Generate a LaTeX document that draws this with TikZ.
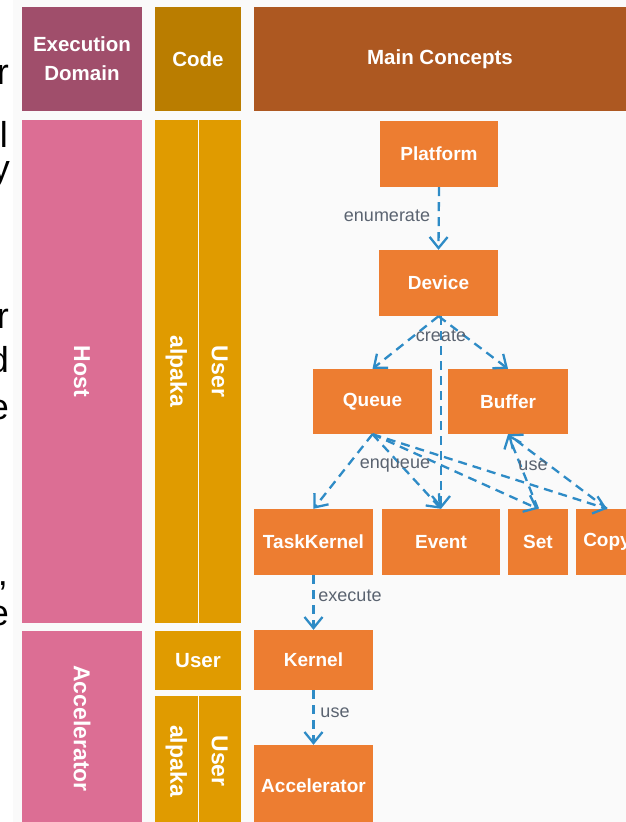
\documentclass[tikz,border=0pt]{standalone}
\usepackage{fontspec}
\setmainfont{Liberation Sans}
\usetikzlibrary{arrows.meta}
\definecolor{hdrDom}{HTML}{A04E6B}
\definecolor{hdrCode}{HTML}{BA7D00}
\definecolor{hdrMain}{HTML}{AD5821}
\definecolor{domPink}{HTML}{DC6E94}
\definecolor{codeGold}{HTML}{E09B00}
\definecolor{conOrange}{HTML}{ED7D31}
\definecolor{arrBlue}{HTML}{2E8BC6}
\definecolor{lblGray}{HTML}{5A6370}
\definecolor{bgGray}{HTML}{FAFAFA}
\begin{document}
\begin{tikzpicture}[x=1pt,y=-1pt,
 panel/.style={fill=#1, draw=none, inner sep=0pt, text=white, font=\bfseries\fontsize{20.5}{29}\selectfont, align=center},
 vtext/.style={text=white, font=\bfseries\fontsize{23}{26}\selectfont, rotate=-90, inner sep=0pt},
 concept/.style={fill=conOrange, draw=none, text=white, font=\bfseries\fontsize{19}{22}\selectfont, inner sep=0pt},
 dep/.style={draw=arrBlue, line width=2.3pt, dash pattern=on 9pt off 6pt, -{Straight Barb[length=11pt,width=18pt]}},
 lbl/.style={text=lblGray, font=\fontsize{18}{20}\selectfont, inner sep=0pt},
 frag/.style={text=black, font=\fontsize{36}{40}\selectfont, anchor=base east, inner sep=0pt}]
\useasboundingbox (0,0) rectangle (626,822);
\clip (0,0) rectangle (626,822);
\fill[bgGray] (13,0) rectangle (626,822);

% left fragments of cut-off slide text
\node[frag] (f1) at (9,84) {r};
\node[frag] (f2) at (8,147) {l};
\node[frag] (f3) at (10,180) {y};
\node[frag] (f4) at (9,328) {r};
\node[frag] (f5) at (9,372) {d};
\node[frag] (f6) at (9,419) {e};
\node[frag] (f7) at (8,585) {,};
\node[frag] (f8) at (9,625) {e};

% header row
\node[panel=hdrDom, minimum width=120pt, minimum height=104pt] (hdom) at (82,59) {Execution\\Domain};
\node[panel=hdrCode, minimum width=86pt, minimum height=104pt] (hcode) at (198,59) {Code};
\node[panel=hdrMain, minimum width=372pt, minimum height=104pt] (hmain) at (440,59) {Main Concepts};

% execution domains
\node[panel=domPink, minimum width=120pt, minimum height=503pt] (host) at (82,371.5) {};
\node[vtext] (hostT) at (host.center) {Host};
\node[panel=domPink, minimum width=120pt, minimum height=195pt] (accd) at (82,728.5) {};
\node[vtext] (accdT) at (accd.center) {Accelerator};

% code columns
\node[panel=codeGold, minimum width=42.5pt, minimum height=503pt] (hal) at (176.25,371.5) {};
\node[vtext] (halT) at (hal.center) {alpaka};
\node[panel=codeGold, minimum width=42.5pt, minimum height=503pt] (hus) at (219.75,371.5) {};
\node[vtext] (husT) at (hus.center) {User};
\node[panel=codeGold, minimum width=86pt, minimum height=59pt] (aus) at (198,660.5) {User};
\node[panel=codeGold, minimum width=42.5pt, minimum height=130pt] (aal2) at (176.25,761) {};
\node[vtext] (aal2T) at (aal2.center) {alpaka};
\node[panel=codeGold, minimum width=42.5pt, minimum height=130pt] (aus2) at (219.75,761) {};
\node[vtext] (aus2T) at (aus2.center) {User};

% concepts
\node[concept, minimum width=118pt, minimum height=66pt] (platform) at (439,154) {Platform};
\node[concept, minimum width=119pt, minimum height=66pt] (device) at (438.5,283) {Device};
\node[concept, minimum width=119pt, minimum height=65pt] (queue) at (372.5,401.5) {Queue};
\node[concept, minimum width=120pt, minimum height=65pt] (buffer) at (508,401.5) {Buffer};
\node[concept, minimum width=119pt, minimum height=66pt] (task) at (313.5,542) {TaskKernel};
\node[concept, minimum width=118pt, minimum height=66pt] (event) at (441,542) {Event};
\node[concept, minimum width=60pt, minimum height=66pt] (set) at (538,542) {Set};
\node[concept, minimum width=62pt, minimum height=66pt] (copy) at (607,542) {Copy};
\node[concept, minimum width=119pt, minimum height=60pt] (kernel) at (313.5,660) {Kernel};
\node[concept, minimum width=119pt, minimum height=82pt] (accel) at (313.5,786) {Accelerator};

% connectors
\draw[dep] (platform.south) -- (device.north);
\draw[dep] (device.south) -- (queue.north);
\draw[dep] (device.south) -- (buffer.north);
\draw[dep] (device.south -| event.north) -- (event.north);
\draw[dep] (queue.south) -- (task.north);
\draw[dep] (queue.south) -- (event.north);
\draw[dep] (queue.south) -- (set.north);
\draw[dep] (queue.south) -- (copy.north);
\draw[dep] (set.north) -- (buffer.south);
\draw[dep] (copy.north) -- (buffer.south);
\draw[dep] (task.south) -- (kernel.north);
\draw[dep] (kernel.south) -- (accel.north);

% labels
\node[lbl] (lenum) at (387,216) {enumerate};
\node[lbl] (lcreate) at (441,336) {create};
\node[lbl] (lenq) at (395,466) {enqueue};
\node[lbl] (luse1) at (533,466) {use};
\node[lbl] (lexec) at (350,596) {execute};
\node[lbl] (luse2) at (335,713) {use};
\end{tikzpicture}
\end{document}
